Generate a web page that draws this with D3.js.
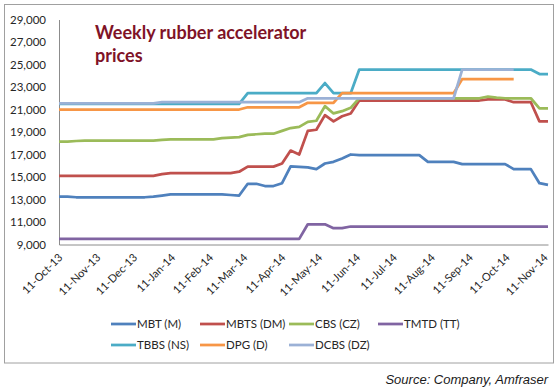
<!DOCTYPE html>
<html>
<head>
<meta charset="utf-8">
<script src="https://cdn.jsdelivr.net/npm/d3@7"></script>
<style>
  body { margin: 0; background: #fff; }
  svg { display: block; }
  .axis path { stroke: #8c8c8c; }
  .axis text { fill: #262626; font-family: Lato, sans-serif; }
  .series { fill: none; stroke-width: 2.75; stroke-linejoin: round; stroke-linecap: butt; }
</style>
</head>
<body>
<script>
const width = 558
const height = 389

// Weekly dates (Fridays)
const weeks = [
  '2013-10-11','2013-10-18','2013-10-25','2013-11-01','2013-11-08','2013-11-15','2013-11-22','2013-11-29',
  '2013-12-06','2013-12-13','2013-12-20','2013-12-27','2014-01-03','2014-01-10','2014-01-17','2014-01-24',
  '2014-01-31','2014-02-07','2014-02-14','2014-02-21','2014-02-28','2014-03-07','2014-03-14','2014-03-21',
  '2014-03-28','2014-04-04','2014-04-11','2014-04-18','2014-04-25','2014-05-02','2014-05-09','2014-05-16',
  '2014-05-23','2014-05-30','2014-06-06','2014-06-13','2014-06-20','2014-06-27','2014-07-04','2014-07-11',
  '2014-07-18','2014-07-25','2014-08-01','2014-08-08','2014-08-15','2014-08-22','2014-08-29','2014-09-05',
  '2014-09-12','2014-09-19','2014-09-26','2014-10-03','2014-10-10','2014-10-17','2014-10-24','2014-10-31',
  '2014-11-07','2014-11-14'
]

// Axis ticks
const monthTicks = [
  '2013-10-11','2013-11-11','2013-12-11','2014-01-11','2014-02-11','2014-03-11','2014-04-11',
  '2014-05-11','2014-06-11','2014-07-11','2014-08-11','2014-09-11','2014-10-11','2014-11-11'
]
const priceTicks = [9000, 11000, 13000, 15000, 17000, 19000, 21000, 23000, 25000, 27000, 29000]

// Series values
const mbt = [13250,13250,13200,13200,13200,13200,13200,13200,13200,13200,
  13200,13250,13350,13450,13450,13450,13450,13450,13450,13450,
  13400,13350,14400,14400,14200,14200,14450,15950,15900,15850,
  15700,16200,16350,16650,17000,16950,16950,16950,16950,16950,
  16950,16950,16950,16350,16350,16350,16350,16150,16150,16150,
  16150,16150,16150,15700,15700,15700,14450,14300]
const mbts = [15100,15100,15100,15100,15100,15100,15100,15100,15100,15100,
  15100,15100,15250,15350,15350,15350,15350,15350,15350,15350,
  15350,15470,15920,15920,15920,15920,16200,17350,17000,19100,
  19200,20500,19950,20400,20650,21800,21800,21800,21800,21800,
  21800,21800,21800,21800,21800,21800,21800,21800,21800,21800,
  21900,21900,21900,21650,21650,21650,19950,19950]
const cbs = [18150,18150,18200,18230,18230,18230,18230,18230,18230,18230,
  18230,18230,18300,18350,18350,18350,18350,18350,18350,18450,
  18500,18550,18750,18800,18850,18850,19100,19350,19450,19900,
  20000,21300,20650,20850,21150,22000,22000,22000,22000,22000,
  22000,22000,22000,22000,22000,22000,22000,22000,22000,22000,
  22150,22050,22000,22000,22000,22000,21100,21100]
const tmtd = [9500,9500,9500,9500,9500,9500,9500,9500,9500,9500,
  9500,9500,9500,9500,9500,9500,9500,9500,9500,9500,
  9500,9500,9500,9500,9500,9500,9500,9500,9500,10800,
  10800,10800,10450,10450,10600,10600,10600,10600,10600,10600,
  10600,10600,10600,10600,10600,10600,10600,10600,10600,10600,
  10600,10600,10600,10600,10600,10600,10600,10600]
const tbbs = [21500,21500,21500,21500,21500,21500,21500,21500,21500,21500,
  21500,21500,21500,21500,21500,21500,21500,21500,21500,21500,
  21500,21500,22450,22450,22450,22450,22450,22450,22450,22450,
  22450,23350,22450,22450,22450,24550,24550,24550,24550,24550,
  24550,24550,24550,24550,24550,24550,24550,24550,24550,24550,
  24550,24550,24550,24550,24550,24550,24150,24150]
const dpg = [21000,21000,21000,21000,21000,21000,21000,21000,21000,21000,
  21000,21000,21000,21000,21000,21000,21000,21000,21000,21000,
  21000,21000,21200,21200,21200,21200,21200,21200,21200,21600,
  21600,21600,21600,22450,22450,22450,22450,22450,22450,22450,
  22450,22450,22450,22450,22450,22450,22450,23700,23700,23700,
  23700,23700,23700,23700,null,null,null,null]
const dcbs = [21550,21550,21550,21550,21550,21550,21550,21550,21550,21550,
  21550,21550,21650,21650,21650,21650,21650,21650,21650,21650,
  21650,21650,21650,21650,21650,21650,21650,21650,21650,22000,
  22000,22000,22000,22000,22000,22000,22000,22000,22000,22000,
  22000,22000,22000,22000,22000,22000,22000,24550,24550,24550,
  24550,24550,24550,24550,null,null,null,null]

const seriesNames = ['MBT (M)', 'MBTS (DM)', 'CBS (CZ)', 'TMTD (TT)', 'TBBS (NS)', 'DPG (D)', 'DCBS (DZ)']
const seriesValues = [mbt, mbts, cbs, tmtd, tbbs, dpg, dcbs]
const seriesColors = ['#4f81bd', '#c0504d', '#9bbb59', '#8064a2', '#4bacc6', '#f79646', '#9bb1d6']

const parse = d3.timeParse('%Y-%m-%d')
const dates = weeks.map(parse)

const plot = {left: 59, right: 548, top: 19.5, bottom: 244.5}

const svg = d3.select('body').append('svg')
  .attr('width', width)
  .attr('height', height)

// outer frame
svg.append('rect')
  .attr('x', 4.5).attr('y', 4.5)
  .attr('width', 549).attr('height', 358.5)
  .attr('fill', '#fff')
  .attr('stroke', '#a0a0a0')

const x = d3.scaleTime()
  .domain([dates[0], dates[dates.length - 1]])
  .range([plot.left, plot.right])

const y = d3.scaleLinear()
  .domain([9000, 29000])
  .range([plot.bottom, plot.top])

// y axis
svg.append('g').classed('axis', true)
  .attr('transform', `translate(${plot.left},0)`)
  .call(d3.axisLeft(y).tickValues(priceTicks).tickSize(0).tickPadding(13)
    .tickFormat(d3.format(',')))
  .call(g => g.selectAll('text').style('font-size', '11.5px'))

// x axis
svg.append('g').classed('axis', true)
  .attr('transform', `translate(0,${plot.bottom})`)
  .call(d3.axisBottom(x).tickValues(monthTicks.map(parse)).tickSize(0)
    .tickFormat(d3.timeFormat('%d-%b-%y')))
  .call(g => g.selectAll('text')
    .style('font-size', '11px')
    .attr('text-anchor', 'end')
    .attr('x', 0).attr('y', 0).attr('dy', '0.35em')
    .attr('transform', 'translate(1,11) rotate(-45)'))

// lines
const line = d3.line()
  .defined(d => d.v != null)
  .x(d => x(d.date))
  .y(d => y(d.v))

svg.append('g').selectAll('path.series')
  .data(seriesValues)
  .enter().append('path').classed('series', true)
  .attr('stroke', (d, i) => seriesColors[i])
  .attr('d', vals => line(vals.map((v, i) => ({date: dates[i], v}))))

// title
const title = svg.append('text')
  .attr('x', 95)
  .attr('fill', '#7f1327')
  .style('font-family', 'Lato, sans-serif')
  .style('font-weight', 'bold')
  .style('font-size', '18px')
title.append('tspan').attr('x', 95).attr('y', 39).text('Weekly rubber accelerator')
title.append('tspan').attr('x', 95).attr('y', 62).text('prices')

// legend
const legendX0 = 111
const legendColW = 89
const legendRowY = [324, 345]
const legend = svg.append('g').selectAll('g.entry')
  .data(seriesNames)
  .enter().append('g').classed('entry', true)
  .attr('transform', (d, i) => `translate(${legendX0 + (i % 4) * legendColW},${legendRowY[Math.floor(i / 4)]})`)
legend.append('line')
  .attr('x1', 0).attr('x2', 25)
  .attr('stroke', (d, i) => seriesColors[i])
  .attr('stroke-width', 2.75)
legend.append('text')
  .attr('x', 26).attr('dy', '0.35em')
  .attr('fill', '#262626')
  .style('font-family', 'Lato, sans-serif')
  .style('font-size', '11.5px')
  .text(d => d)

// source note
svg.append('text')
  .attr('x', 548).attr('y', 383.5)
  .attr('text-anchor', 'end')
  .attr('fill', '#1a1a1a')
  .style('font-family', '"Liberation Sans", Arial, sans-serif')
  .style('font-style', 'italic')
  .style('font-size', '13px')
  .text('Source: Company, Amfraser')
</script>
</body>
</html>
